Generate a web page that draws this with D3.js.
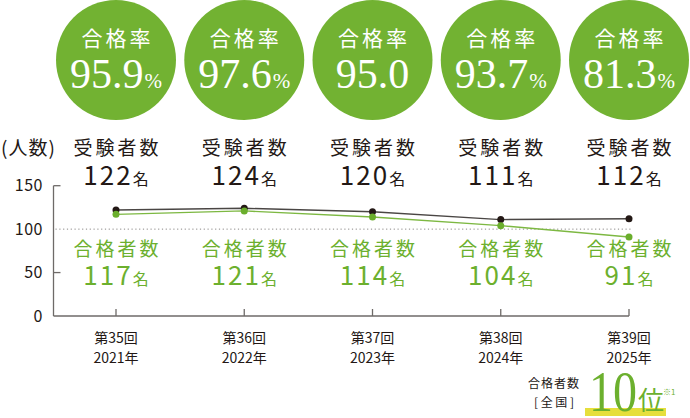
<!DOCTYPE html>
<html>
<head>
<meta charset="utf-8">
<script src="https://cdn.jsdelivr.net/npm/d3@7"></script>
<style>
  body { margin: 0; background: #fff; }
  svg { display: block; }
  text { font-family: "Noto Sans CJK JP", "Noto Sans", sans-serif; }
  text.serif, text.serif tspan { font-family: "Liberation Serif", "DejaVu Serif", "Times New Roman", serif; }
</style>
</head>
<body>
<div id="chart"></div>
<script>
// data
var rounds = ["第35回", "第36回", "第37回", "第38回", "第39回"];
var years = ["2021年", "2022年", "2023年", "2024年", "2025年"];
var rates = ["95.9", "97.6", "95.0", "93.7", "81.3"];
var rateUnit = ["%", "%", "", "%", "%"];   // the 3rd circle has no % in the original
var examinees = [122, 124, 120, 111, 112];
var passers = [117, 121, 114, 104, 91];
var yTicks = [0, 50, 100, 150];

var width = 690, height = 418;
var green = "#72b232", greenText = "#6cb02e", dark = "#231815", axisCol = "#6e6a68";
var serifFont = "'Liberation Serif', 'DejaVu Serif', 'Times New Roman', serif";

var svg = d3.select("#chart").append("svg").attr("width", width).attr("height", height);

var x = d3.scalePoint().domain(rounds).range([116, 629]);
var y = d3.scaleLinear().domain([0, 150]).range([316, 185.7]);

// circles with pass rate
var circ = svg.selectAll("g.rate")
    .data(rounds)
    .enter().append("g")
    .attr("class", "rate")
    .attr("transform", (d) => "translate(" + x(d) + ",60)");

circ.append("circle").attr("r", 60).attr("fill", green);

circ.append("text")
    .attr("x", 1.5).attr("y", 46 - 60)
    .attr("text-anchor", "middle")
    .attr("fill", "#fff")
    .attr("font-size", 21)
    .attr("letter-spacing", 3)
    .text("合格率");

circ.append("text")
    .attr("class", "serif")
    .style("font-family", serifFont)
    .attr("y", 88 - 60)
    .attr("text-anchor", "middle")
    .attr("fill", "#fff")
    .each(function(d, i) {
        var t = d3.select(this);
        t.append("tspan").style("font-family", serifFont).attr("font-size", 42).text(rates[i]);
        if (rateUnit[i]) t.append("tspan").style("font-family", serifFont).attr("font-size", 21).attr("dx", 1).text(rateUnit[i]);
    });

// unit label
svg.append("text")
    .attr("x", 1).attr("y", 155)
    .attr("fill", dark)
    .attr("font-size", 19)
    .attr("letter-spacing", 1)
    .text("(人数)");

// labels above: examinees
var examG = svg.selectAll("g.exam")
    .data(rounds)
    .enter().append("g")
    .attr("class", "exam")
    .attr("transform", (d) => "translate(" + x(d) + ",0)");

examG.append("text")
    .attr("x", 1.5).attr("y", 155)
    .attr("text-anchor", "middle")
    .attr("fill", dark)
    .attr("font-size", 19)
    .attr("letter-spacing", 3)
    .text("受験者数");

examG.append("text")
    .attr("y", 185)
    .attr("text-anchor", "middle")
    .attr("fill", dark)
    .each(function(d, i) {
        var t = d3.select(this);
        t.append("tspan").attr("font-size", 26).attr("letter-spacing", 2).text(examinees[i]);
        t.append("tspan").attr("font-size", 16).text("名");
    });

// labels below: passers
var passG = svg.selectAll("g.pass")
    .data(rounds)
    .enter().append("g")
    .attr("class", "pass")
    .attr("transform", (d) => "translate(" + x(d) + ",0)");

passG.append("text")
    .attr("x", 1.5).attr("y", 256)
    .attr("text-anchor", "middle")
    .attr("fill", greenText)
    .attr("font-size", 19)
    .attr("letter-spacing", 3)
    .text("合格者数");

passG.append("text")
    .attr("y", 285)
    .attr("text-anchor", "middle")
    .attr("fill", greenText)
    .each(function(d, i) {
        var t = d3.select(this);
        t.append("tspan").attr("font-size", 26).attr("letter-spacing", 2).text(passers[i]);
        t.append("tspan").attr("font-size", 16).text("名");
    });

// axes
var axisLeft = 53.5;
svg.append("line")
    .attr("x1", axisLeft).attr("x2", axisLeft)
    .attr("y1", y(150)).attr("y2", y(0))
    .attr("stroke", axisCol).attr("stroke-width", 1.3);
svg.append("line")
    .attr("x1", axisLeft).attr("x2", x(rounds[rounds.length - 1]))
    .attr("y1", y(0)).attr("y2", y(0))
    .attr("stroke", axisCol).attr("stroke-width", 1.3);

svg.selectAll("line.ytick")
    .data([150, 50])
    .enter().append("line")
    .attr("x1", axisLeft).attr("x2", axisLeft + 7)
    .attr("y1", (d) => y(d)).attr("y2", (d) => y(d))
    .attr("stroke", axisCol).attr("stroke-width", 1.3);

svg.append("line")
    .attr("x1", axisLeft + 2).attr("x2", 633)
    .attr("y1", y(100)).attr("y2", y(100))
    .attr("stroke", "#8a8685").attr("stroke-width", 1)
    .attr("stroke-dasharray", "1.2,2.6");

svg.selectAll("text.ylab")
    .data(yTicks)
    .enter().append("text")
    .attr("x", 43).attr("y", (d) => y(d) + 5.5)
    .attr("text-anchor", "end")
    .attr("fill", dark)
    .attr("font-size", 16)
    .attr("letter-spacing", 0.5)
    .text((d) => d);

svg.selectAll("line.xtick")
    .data(rounds)
    .enter().append("line")
    .attr("x1", (d) => x(d)).attr("x2", (d) => x(d))
    .attr("y1", y(0) - 7).attr("y2", y(0))
    .attr("stroke", axisCol).attr("stroke-width", 1.3);

svg.selectAll("text.xlab")
    .data(rounds)
    .enter().append("text")
    .attr("x", (d) => x(d)).attr("y", 343)
    .attr("text-anchor", "middle")
    .attr("fill", dark)
    .attr("font-size", 14)
    .text((d) => d);

svg.selectAll("text.xyear")
    .data(rounds)
    .enter().append("text")
    .attr("x", (d) => x(d)).attr("y", 363)
    .attr("text-anchor", "middle")
    .attr("fill", dark)
    .attr("font-size", 14)
    .text((d, i) => years[i]);

// lines
var line = d3.line().x((d, i) => x(rounds[i])).y((d) => y(d));

svg.append("path")
    .datum(examinees)
    .attr("d", line)
    .attr("fill", "none")
    .attr("stroke", "#4a4644").attr("stroke-width", 1.4);
svg.append("path")
    .datum(passers)
    .attr("d", line)
    .attr("fill", "none")
    .attr("stroke", "#7db842").attr("stroke-width", 1.4);

svg.selectAll("circle.exam")
    .data(examinees)
    .enter().append("circle")
    .attr("cx", (d, i) => x(rounds[i])).attr("cy", (d) => y(d))
    .attr("r", 3.5).attr("fill", dark);
svg.selectAll("circle.pass")
    .data(passers)
    .enter().append("circle")
    .attr("cx", (d, i) => x(rounds[i])).attr("cy", (d) => y(d))
    .attr("r", 3.5).attr("fill", "#6aae2c");

// national ranking badge
svg.append("rect")
    .attr("x", 585).attr("y", 408)
    .attr("width", 81).attr("height", 8)
    .attr("fill", "#e6df3c");

svg.append("text")
    .attr("x", 554).attr("y", 388)
    .attr("text-anchor", "middle")
    .attr("fill", dark).attr("font-size", 12).attr("letter-spacing", 1)
    .text("合格者数");
svg.append("text")
    .attr("x", 554).attr("y", 407)
    .attr("text-anchor", "middle")
    .attr("fill", dark).attr("font-size", 12)
    .style("white-space", "pre")
    .text("[ 全 国 ]");

svg.append("text")
    .attr("class", "serif")
    .style("font-family", serifFont)
    .attr("x", 589).attr("y", 411)
    .attr("fill", greenText)
    .attr("font-size", 56)
    .attr("textLength", 48).attr("lengthAdjust", "spacingAndGlyphs")
    .text("10");
svg.append("text")
    .attr("x", 638).attr("y", 410)
    .attr("fill", greenText)
    .attr("font-size", 26)
    .text("位");
svg.append("text")
    .attr("x", 663).attr("y", 395)
    .attr("fill", greenText)
    .attr("font-size", 8)
    .text("※1");
</script>
</body>
</html>
